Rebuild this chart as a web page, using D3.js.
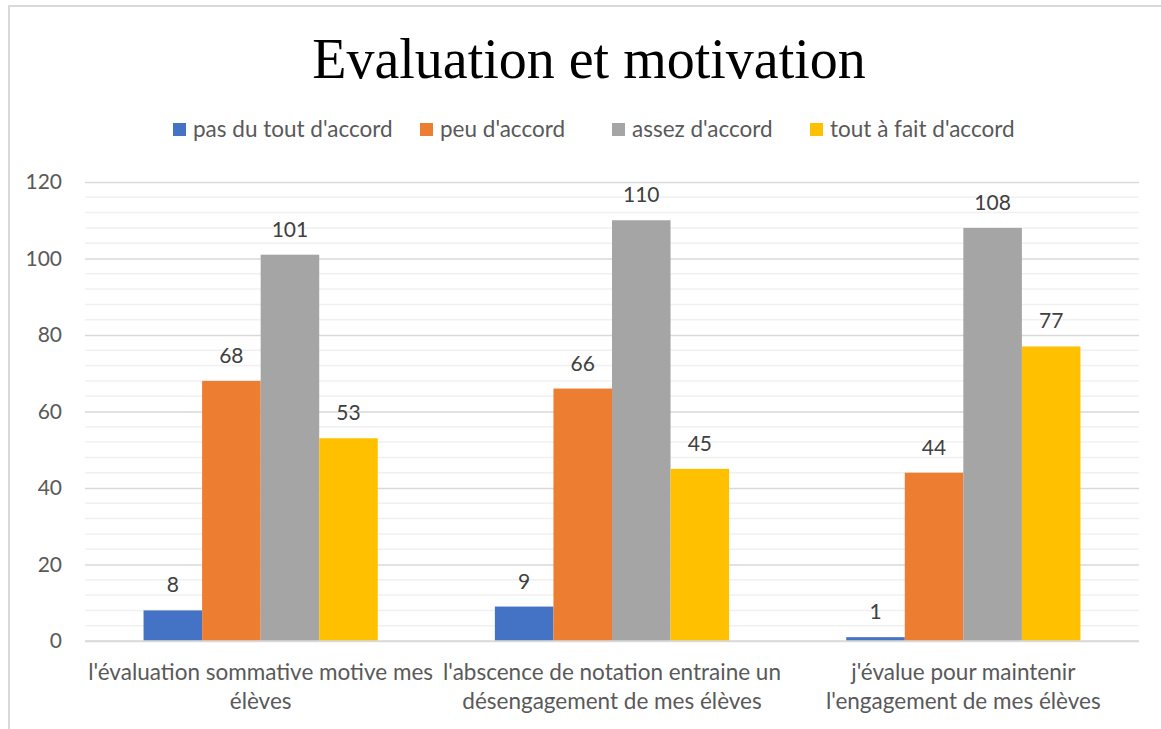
<!DOCTYPE html>
<html>
<head>
<meta charset="utf-8">
<script src="https://cdn.jsdelivr.net/npm/d3@7"></script>
<style>
  html, body { margin: 0; padding: 0; background: #fff; }
  #chart { width: 1161px; height: 729px; }
</style>
</head>
<body>
<div id="chart"></div>
<script>
(function () {
  'use strict';

  const TITLE = 'Evaluation et motivation';
  const SERIES = ['pas du tout d\'accord', 'peu d\'accord', 'assez d\'accord', 'tout à fait d\'accord'];
  const COLORS = ['#4472C4', '#ED7D31', '#A5A5A5', '#FFC000'];
  const CATEGORIES = [
    ['l\'évaluation sommative motive mes', 'élèves'],
    ['l\'abscence de notation entraine un', 'désengagement de mes élèves'],
    ['j\'évalue pour maintenir', 'l\'engagement de mes élèves']
  ];
  const PAS_DU_TOUT = [8, 9, 1];
  const PEU = [68, 66, 44];
  const ASSEZ = [101, 110, 108];
  const TOUT_A_FAIT = [53, 45, 77];
  const Y_TICKS = [0, 20, 40, 60, 80, 100, 120];

  const VALUES = [PAS_DU_TOUT, PEU, ASSEZ, TOUT_A_FAIT];
  const SANS = 'Lato, "Open Sans", sans-serif';

  const width = 1161, height = 729;
  const plot = { left: 85, right: 1139, top: 182, bottom: 641 };

  const svg = d3.select('#chart').append('svg')
    .attr('width', width)
    .attr('height', height);

  // Chart area frame (only top and left edges are visible)
  svg.append('path')
    .attr('d', `M9,${height} V6 H${width}`)
    .attr('fill', 'none')
    .attr('stroke', '#d9d9d9')
    .attr('stroke-width', 2);

  // Title
  svg.append('text')
    .attr('x', 589).attr('y', 78)
    .attr('text-anchor', 'middle')
    .attr('font-family', '"Liberation Serif", "Times New Roman", serif')
    .attr('font-size', 56)
    .attr('fill', '#000')
    .text(TITLE);

  const y = d3.scaleLinear().domain([0, 120]).range([plot.bottom, plot.top]);
  const x0 = d3.scaleBand()
    .domain(d3.range(CATEGORIES.length))
    .range([plot.left, plot.right])
    .padding(0);
  const x1 = d3.scaleBand()
    .domain(d3.range(SERIES.length))
    .range([0, x0.bandwidth()])
    .paddingInner(0)
    .paddingOuter(1);

  // Minor gridlines every 4
  svg.append('g').selectAll('line')
    .data(d3.range(0, 121, 4).filter(v => v % 20 !== 0))
    .join('line')
    .attr('x1', plot.left).attr('x2', plot.right)
    .attr('y1', d => y(d)).attr('y2', d => y(d))
    .attr('stroke', '#f0f0f0')
    .attr('stroke-width', 1.5);

  // Major gridlines + y axis labels
  const yAxis = d3.axisLeft(y)
    .tickValues(Y_TICKS)
    .tickSize(-(plot.right - plot.left))
    .tickPadding(23);

  const gy = svg.append('g')
    .attr('transform', `translate(${plot.left},0)`)
    .call(yAxis);
  gy.select('.domain').remove();
  gy.selectAll('.tick line')
    .attr('stroke', '#d9d9d9')
    .attr('stroke-width', 1.5);
  gy.selectAll('.tick text')
    .attr('font-family', SANS)
    .attr('font-size', 21)
    .attr('fill', '#595959');

  // Bars
  const groups = svg.append('g').selectAll('g')
    .data(CATEGORIES.map((c, i) => i))
    .join('g')
    .attr('transform', i => `translate(${x0(i)},0)`);

  groups.selectAll('rect')
    .data(ci => VALUES.map((vals, si) => ({ si, v: vals[ci] })))
    .join('rect')
    .attr('x', d => x1(d.si))
    .attr('width', x1.bandwidth())
    .attr('y', d => y(d.v))
    .attr('height', d => y(0) - y(d.v))
    .attr('fill', d => COLORS[d.si]);

  // Value labels
  groups.selectAll('text')
    .data(ci => VALUES.map((vals, si) => ({ si, v: vals[ci] })))
    .join('text')
    .attr('x', d => x1(d.si) + x1.bandwidth() / 2)
    .attr('y', d => y(d.v) - 18)
    .attr('text-anchor', 'middle')
    .attr('font-family', SANS)
    .attr('font-size', 21)
    .attr('fill', '#404040')
    .text(d => d.v);

  // Baseline
  svg.append('line')
    .attr('x1', plot.left).attr('x2', plot.right)
    .attr('y1', y(0)).attr('y2', y(0))
    .attr('stroke', '#d9d9d9')
    .attr('stroke-width', 1.5);

  // Category labels
  const cat = svg.append('g').selectAll('text')
    .data(CATEGORIES)
    .join('text')
    .attr('text-anchor', 'middle')
    .attr('font-family', SANS)
    .attr('font-size', 22.5)
    .attr('fill', '#595959');
  cat.each(function (lines, i) {
    d3.select(this).selectAll('tspan')
      .data(lines)
      .join('tspan')
      .attr('x', x0(i) + x0.bandwidth() / 2)
      .attr('y', (d, j) => 680 + j * 29)
      .text(d => d);
  });

  // Legend
  const LEGEND_X = [173, 420, 612, 810];
  const legend = svg.append('g').selectAll('g')
    .data(SERIES)
    .join('g')
    .attr('transform', (d, i) => `translate(${LEGEND_X[i]},123)`);
  legend.append('rect')
    .attr('width', 13).attr('height', 13)
    .attr('fill', (d, i) => COLORS[i]);
  legend.append('text')
    .attr('x', 20).attr('y', 14)
    .attr('font-family', SANS)
    .attr('font-size', 22.5)
    .attr('fill', '#595959')
    .text(d => d);
})();
</script>
</body>
</html>
